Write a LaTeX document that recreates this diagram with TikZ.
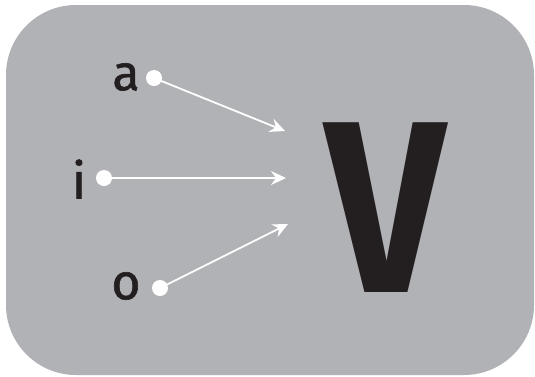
\documentclass[tikz,border=0pt]{standalone}
\usepackage{fontspec}
\setmainfont{Fira Sans}
\newfontfamily\vowelfont{Fira Sans}[FakeBold=1.2]
\usetikzlibrary{arrows.meta,positioning}

\definecolor{panelgrey}{HTML}{B1B2B5}
\definecolor{inkblack}{HTML}{231F20}

\begin{document}
\begin{tikzpicture}[
    x=1pt, y=-1pt,
    letter/.style={font=\fontsize{50}{50}\vowelfont, text=inkblack, inner sep=0pt},
    bigletter/.style={font=\fontsize{245}{245}\selectfont\bfseries, text=inkblack,
                      inner sep=0pt, xscale=0.86},
    dot/.style={circle, fill=white, inner sep=0pt, minimum size=16pt},
    link/.style={draw=white, line width=1.8pt,
                 -{Stealth[length=15pt,width=14pt,inset=5pt]}}
  ]
    \useasboundingbox (0,0) rectangle (535,376);
    \fill[panelgrey, rounded corners=70pt] (6,5) rectangle (534,375);

    % vowels on the left, each with its dot
    \node[letter] (a) at (126,77) {a};
    \node[letter] (i) at (79,179) {i};
    \node[letter] (o) at (126,286) {o};
    \node[dot] (adot) at (154,78) {};
    \node[dot] (idot) at (104,178) {};
    \node[dot] (odot) at (160,288) {};

    % arrow ends and the big letter
    \coordinate (aend) at (285,131);
    \coordinate (iend) at (286,178);
    \coordinate (oend) at (288,224);
    \node[bigletter] (v) at (386,208) {V};

    % links
    \draw[link] (adot.center) -- (aend);
    \draw[link] (idot.center) -- (iend);
    \draw[link] (odot.center) -- (oend);
\end{tikzpicture}
\end{document}
